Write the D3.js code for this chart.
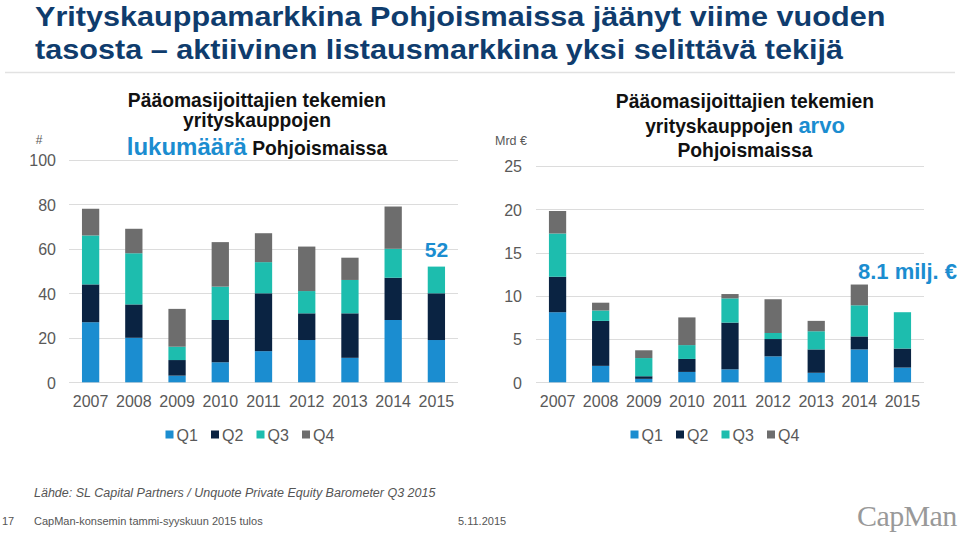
<!DOCTYPE html>
<html><head><meta charset="utf-8">
<script src="https://cdn.jsdelivr.net/npm/d3@7"></script>
<style>
body{margin:0;background:#fff;}
svg{display:block;font-family:"Liberation Sans",Arial,sans-serif;}
</style></head>
<body><svg id="c" width="960" height="534"></svg>
<script>
const years = ["2007","2008","2009","2010","2011","2012","2013","2014","2015"];
const quarters = ["Q1","Q2","Q3","Q4"];
const colors = ["#1b8dd0","#0a2342","#1dbdae","#6d6d6d"];
// Number of deals (#)
const countQ1 = [27,20,3,9,14,19,11,28,19];
const countQ2 = [17,15,7,19,26,12,20,19,21];
const countQ3 = [22,23,6,15,14,10,15,13,12];
const countQ4 = [12,11,17,20,13,20,10,19,0];
// Deal value (Mrd €)
const valueQ1 = [8.1,1.9,0.4,1.2,1.5,3.0,1.1,3.8,1.7];
const valueQ2 = [4.1,5.2,0.3,1.5,5.4,2.0,2.7,1.5,2.2];
const valueQ3 = [5.0,1.2,2.1,1.6,2.8,0.7,2.1,3.6,4.2];
const valueQ4 = [2.6,0.9,0.9,3.2,0.5,3.9,1.2,2.4,0];
const countTicks = [0,20,40,60,80,100];
const valueTicks = [0,5,10,15,20,25];

const svg = d3.select("#c");
const txt = "#595959";

// Title
const title = svg.append("g").attr("transform","translate(35,0) scale(1.093,1)")
  .attr("fill","#0f3c6d").attr("font-weight","bold").attr("font-size",28);
title.append("text").attr("x",0).attr("y",26).text("Yrityskauppamarkkina Pohjoismaissa jäänyt viime vuoden");
title.append("text").attr("x",0).attr("y",59).text("tasosta – aktiivinen listausmarkkina yksi selittävä tekijä");
svg.append("line").attr("x1",5).attr("x2",955).attr("y1",72.5).attr("y2",72.5).attr("stroke","#e2e2e2").attr("stroke-width",1.5);

function drawChart(cfg){
  const {x0,x1,yTop,yBottom,domainMax,ticks,series,labelX} = cfg;
  const x = d3.scaleBand().domain(years).range([x0,x1]).paddingInner(0.6).paddingOuter(0.3);
  const y = d3.scaleLinear().domain([0,domainMax]).range([yBottom,yTop]);
  const g = svg.append("g");
  g.append("g").selectAll("line").data(ticks).join("line")
    .attr("x1",x0).attr("x2",x1).attr("y1",d=>Math.round(y(d))+0.5).attr("y2",d=>Math.round(y(d))+0.5)
    .attr("stroke","#dcdcdc").attr("stroke-width",1);
  const ya = d3.axisLeft(y).tickValues(ticks).tickSize(0).tickPadding(0);
  const yg = g.append("g").attr("transform",`translate(${labelX},0)`).call(ya);
  yg.select(".domain").remove();
  yg.selectAll("text").attr("fill",txt).attr("font-size",16).attr("font-family","Liberation Sans, Arial, sans-serif").attr("dy","0.36em");
  const rows = years.map((yr,i)=>({year:yr,Q1:series[0][i],Q2:series[1][i],Q3:series[2][i],Q4:series[3][i]}));
  const stacked = d3.stack().keys(quarters)(rows);
  g.append("g").selectAll("g").data(stacked).join("g").attr("fill",(d,i)=>colors[i])
    .selectAll("rect").data(d=>d).join("rect")
    .attr("x",d=>x(d.data.year)).attr("width",x.bandwidth())
    .attr("y",d=>y(d[1])).attr("height",d=>y(d[0])-y(d[1]));
  const xa = d3.axisBottom(x).tickSize(0).tickPadding(0);
  const xg = g.append("g").attr("transform",`translate(0,${yBottom+20})`).call(xa);
  xg.select(".domain").remove();
  xg.selectAll("text").attr("fill",txt).attr("font-size",16).attr("font-family","Liberation Sans, Arial, sans-serif").attr("dy","0.32em");
  return {x,y};
}

const L = drawChart({x0:69,x1:458,yTop:159.8,yBottom:382.3,domainMax:100,ticks:countTicks,
  series:[countQ1,countQ2,countQ3,countQ4],labelX:56});
const R = drawChart({x0:536,x1:924,yTop:166,yBottom:382.3,domainMax:25,ticks:valueTicks,
  series:[valueQ1,valueQ2,valueQ3,valueQ4],labelX:522});

function legend(cx0){
  const lg = svg.append("g");
  quarters.forEach((q,i)=>{
    const gx = cx0 + i*45.5;
    lg.append("rect").attr("x",gx).attr("y",430.5).attr("width",8).attr("height",8).attr("fill",colors[i]);
    lg.append("text").attr("x",gx+11).attr("y",441).attr("font-size",16).attr("fill",txt).text(q);
  });
}
legend(165.5);
legend(630.5);

svg.append("text").attr("x",39).attr("y",144).attr("text-anchor","middle").attr("font-size",12).attr("fill",txt).text("#");
svg.append("text").attr("x",527).attr("y",145).attr("text-anchor","end").attr("font-size",12.5).attr("fill",txt).text("Mrd €");

// Subtitles
const st1 = svg.append("g").attr("text-anchor","middle").attr("font-size",19.3).attr("fill","#111");
st1.append("text").attr("x",257).attr("y",107).attr("font-weight","bold").text("Pääomasijoittajien tekemien");
st1.append("text").attr("x",257).attr("y",127).attr("font-weight","bold").text("yrityskauppojen");
const l3 = st1.append("text").attr("x",257).attr("y",155);
l3.append("tspan").attr("fill","#1b8dd0").attr("font-size",24).attr("font-weight","bold").text("lukumäärä");
l3.append("tspan").attr("font-weight","bold").text(" Pohjoismaissa");

const st2 = svg.append("g").attr("text-anchor","middle").attr("font-size",19.3).attr("fill","#111");
st2.append("text").attr("x",745).attr("y",108).attr("font-weight","bold").text("Pääomasijoittajien tekemien");
const r2 = st2.append("text").attr("x",745).attr("y",133);
r2.append("tspan").attr("font-weight","bold").text("yrityskauppojen ");
r2.append("tspan").attr("fill","#1b8dd0").attr("font-size",22).attr("font-weight","bold").text("arvo");
st2.append("text").attr("x",745).attr("y",157).attr("font-weight","bold").text("Pohjoismaissa");

const lastIdx = years.length-1;
const countTotal = countQ1[lastIdx]+countQ2[lastIdx]+countQ3[lastIdx]+countQ4[lastIdx];
svg.append("text").attr("x",L.x(years[lastIdx])+L.x.bandwidth()/2).attr("y",257)
  .attr("text-anchor","middle").attr("font-size",21).attr("font-weight","bold").attr("fill","#1b8dd0").text(countTotal);
const valueTotal = valueQ1[lastIdx]+valueQ2[lastIdx]+valueQ3[lastIdx]+valueQ4[lastIdx];
svg.append("text").attr("x",858).attr("y",279)
  .attr("font-size",22).attr("font-weight","bold").attr("fill","#1b8dd0").text(valueTotal.toFixed(1)+" milj. €");

// Footer
svg.append("text").attr("x",34).attr("y",497).attr("font-size",12.5).attr("font-style","italic").attr("fill","#555")
  .text("Lähde: SL Capital Partners / Unquote Private Equity Barometer Q3 2015");
svg.append("text").attr("x",2).attr("y",525).attr("font-size",11).attr("fill","#555").text("17");
svg.append("text").attr("x",34).attr("y",525).attr("font-size",11).attr("fill","#555").text("CapMan-konsemin tammi-syyskuun 2015 tulos");
svg.append("text").attr("x",458).attr("y",525).attr("font-size",11).attr("fill","#555").text("5.11.2015");
svg.append("text").attr("x",857).attr("y",526).attr("font-size",30).attr("font-family","Liberation Serif, Times New Roman, serif")
  .attr("fill","#999").attr("letter-spacing",-0.6).text("CapMan");
</script></body></html>
